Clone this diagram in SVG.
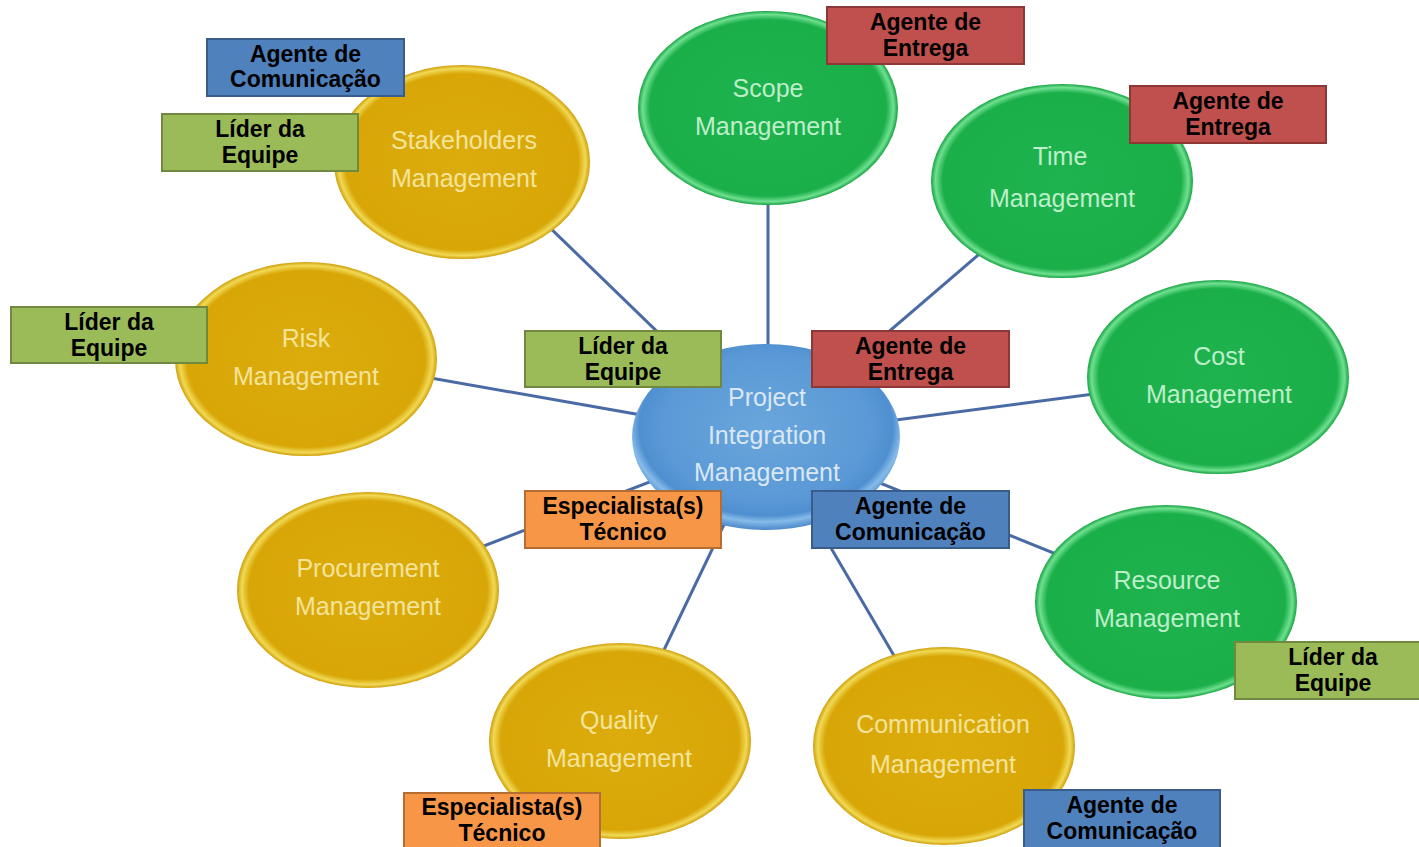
<svg xmlns="http://www.w3.org/2000/svg" width="1419" height="847" viewBox="0 0 1419 847">
<defs>
<radialGradient id="gY" cx="50%" cy="50%" r="50%">
<stop offset="0" stop-color="#dcac0c"/>
<stop offset="0.91" stop-color="#d8a707"/>
<stop offset="0.965" stop-color="#f1d955"/>
<stop offset="1" stop-color="#cf9f0a"/>
</radialGradient>
<radialGradient id="gG" cx="50%" cy="50%" r="50%">
<stop offset="0" stop-color="#1eb34e"/>
<stop offset="0.91" stop-color="#1baf4a"/>
<stop offset="0.965" stop-color="#6fe090"/>
<stop offset="1" stop-color="#17a443"/>
</radialGradient>
<radialGradient id="gB" cx="50%" cy="45%" r="55%">
<stop offset="0" stop-color="#6aa6dc"/>
<stop offset="0.72" stop-color="#5a99d6"/>
<stop offset="0.86" stop-color="#4f8fd0"/>
<stop offset="0.92" stop-color="#86bbea"/>
<stop offset="1" stop-color="#4a88c8"/>
</radialGradient>
</defs>
<style>
.ln{stroke:#4a6aa5;stroke-width:3;fill:none}
.et{font-family:"Liberation Sans",Arial,sans-serif;font-size:25px;text-anchor:middle}
.ty{fill:#f3e49a}
.tg{fill:#bdeec9}
.tb{fill:#dae7f5}
.bx{stroke-width:2}
.lb{font-family:"Liberation Sans",Arial,sans-serif;font-weight:bold;font-size:23px;text-anchor:middle;fill:#000}
.blue{fill:#4f81bd;stroke:#385d8a}
.green{fill:#9bbb59;stroke:#71893f}
.red{fill:#c0504d;stroke:#8c3836}
.orange{fill:#f79646;stroke:#b66d31}
</style>
<rect width="1419" height="847" fill="#ffffff"/>
<g id="connectors">
<line class="ln" x1="766" y1="437" x2="480" y2="160"/>
<line class="ln" x1="768" y1="437" x2="768" y2="150"/>
<line class="ln" x1="766" y1="437" x2="1040" y2="202"/>
<line class="ln" x1="766" y1="437" x2="1200" y2="380"/>
<line class="ln" x1="766" y1="437" x2="306" y2="356"/>
<line class="ln" x1="766" y1="437" x2="380" y2="586"/>
<line class="ln" x1="766" y1="437" x2="1160" y2="596"/>
<line class="ln" x1="766" y1="437" x2="640" y2="700"/>
<line class="ln" x1="766" y1="437" x2="920" y2="700"/>
</g>
<g id="node-stakeholders">
<ellipse cx="462" cy="162" rx="128" ry="97" fill="url(#gY)"/>
<text class="et ty" x="464" y="149">Stakeholders</text>
<text class="et ty" x="464" y="187">Management</text>
</g>
<g id="node-scope">
<ellipse cx="768" cy="108" rx="130" ry="97" fill="url(#gG)"/>
<text class="et tg" x="768" y="97">Scope</text>
<text class="et tg" x="768" y="135">Management</text>
</g>
<g id="node-time">
<ellipse cx="1062" cy="181" rx="131" ry="97" fill="url(#gG)"/>
<text class="et tg" x="1060" y="165">Time</text>
<text class="et tg" x="1062" y="207">Management</text>
</g>
<g id="node-cost">
<ellipse cx="1218" cy="377" rx="131" ry="97" fill="url(#gG)"/>
<text class="et tg" x="1219" y="365">Cost</text>
<text class="et tg" x="1219" y="403">Management</text>
</g>
<g id="node-risk">
<ellipse cx="306" cy="359" rx="131" ry="97" fill="url(#gY)"/>
<text class="et ty" x="306" y="347">Risk</text>
<text class="et ty" x="306" y="385">Management</text>
</g>
<g id="node-procurement">
<ellipse cx="368" cy="590" rx="131" ry="98" fill="url(#gY)"/>
<text class="et ty" x="368" y="577">Procurement</text>
<text class="et ty" x="368" y="615">Management</text>
</g>
<g id="node-resource">
<ellipse cx="1166" cy="602" rx="131" ry="97" fill="url(#gG)"/>
<text class="et tg" x="1167" y="589">Resource</text>
<text class="et tg" x="1167" y="627">Management</text>
</g>
<g id="node-quality">
<ellipse cx="620" cy="741" rx="131" ry="98" fill="url(#gY)"/>
<text class="et ty" x="619" y="729">Quality</text>
<text class="et ty" x="619" y="767">Management</text>
</g>
<g id="node-communication">
<ellipse cx="944" cy="746" rx="131" ry="99" fill="url(#gY)"/>
<text class="et ty" x="943" y="733">Communication</text>
<text class="et ty" x="943" y="773">Management</text>
</g>
<g id="node-integration">
<ellipse cx="766" cy="437" rx="134" ry="93" fill="url(#gB)"/>
<text class="et tb" x="767" y="406">Project</text>
<text class="et tb" x="767" y="444">Integration</text>
<text class="et tb" x="767" y="481">Management</text>
</g>
<g id="label-comunicacao-1">
<rect class="bx blue" x="207" y="39" width="197" height="57"/>
<text class="lb" x="305.5" y="62">Agente de</text>
<text class="lb" x="305.5" y="87">Comunicação</text>
</g>
<g id="label-lider-1">
<rect class="bx green" x="162" y="114" width="196" height="57"/>
<text class="lb" x="260" y="137">Líder da</text>
<text class="lb" x="260" y="163">Equipe</text>
</g>
<g id="label-entrega-1">
<rect class="bx red" x="827" y="7" width="197" height="57"/>
<text class="lb" x="925.5" y="30">Agente de</text>
<text class="lb" x="925.5" y="56">Entrega</text>
</g>
<g id="label-entrega-2">
<rect class="bx red" x="1130" y="86" width="196" height="57"/>
<text class="lb" x="1228" y="109">Agente de</text>
<text class="lb" x="1228" y="135">Entrega</text>
</g>
<g id="label-lider-2">
<rect class="bx green" x="11" y="307" width="196" height="56"/>
<text class="lb" x="109" y="330">Líder da</text>
<text class="lb" x="109" y="356">Equipe</text>
</g>
<g id="label-lider-3">
<rect class="bx green" x="525" y="331" width="196" height="56"/>
<text class="lb" x="623" y="354">Líder da</text>
<text class="lb" x="623" y="380">Equipe</text>
</g>
<g id="label-entrega-3">
<rect class="bx red" x="812" y="331" width="197" height="56"/>
<text class="lb" x="910.5" y="354">Agente de</text>
<text class="lb" x="910.5" y="380">Entrega</text>
</g>
<g id="label-especialista-1">
<rect class="bx orange" x="525" y="491" width="196" height="57"/>
<text class="lb" x="623" y="514">Especialista(s)</text>
<text class="lb" x="623" y="540">Técnico</text>
</g>
<g id="label-comunicacao-2">
<rect class="bx blue" x="812" y="491" width="197" height="57"/>
<text class="lb" x="910.5" y="514">Agente de</text>
<text class="lb" x="910.5" y="540">Comunicação</text>
</g>
<g id="label-lider-4">
<rect class="bx green" x="1235" y="642" width="196" height="57"/>
<text class="lb" x="1333" y="665">Líder da</text>
<text class="lb" x="1333" y="691">Equipe</text>
</g>
<g id="label-especialista-2">
<rect class="bx orange" x="404" y="793" width="196" height="60"/>
<text class="lb" x="502" y="815">Especialista(s)</text>
<text class="lb" x="502" y="841">Técnico</text>
</g>
<g id="label-comunicacao-3">
<rect class="bx blue" x="1024" y="790" width="196" height="63"/>
<text class="lb" x="1122" y="813">Agente de</text>
<text class="lb" x="1122" y="839">Comunicação</text>
</g>
</svg>
